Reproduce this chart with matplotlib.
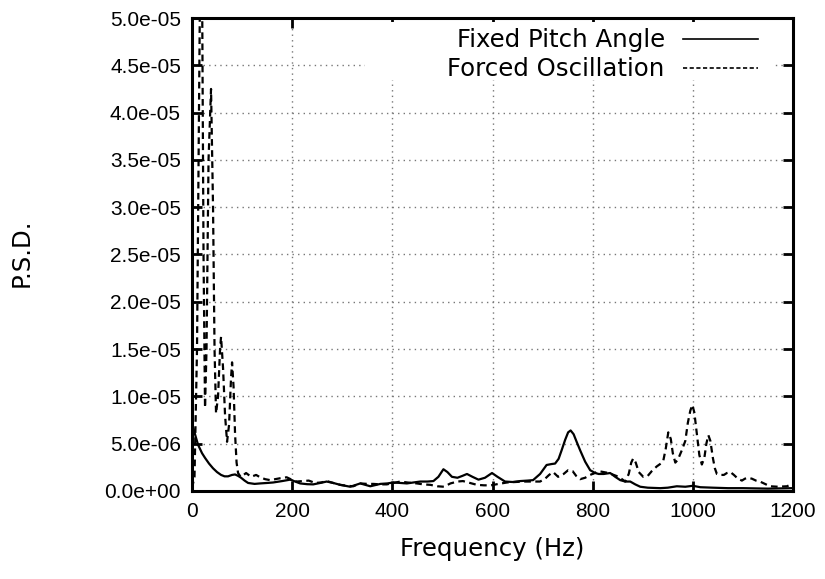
import numpy as np
import matplotlib
matplotlib.use("Agg")
import matplotlib.pyplot as plt
from matplotlib.ticker import FuncFormatter, MultipleLocator
from matplotlib.patches import Rectangle
from matplotlib.lines import Line2D

plt.rcParams['font.family'] = ['Liberation Sans', 'DejaVu Sans']

# Fixed Pitch Angle (values in units of 1e-6)
fixed_freq = [0, 6, 12, 20, 26, 34, 42, 50, 58, 65, 72, 80, 86, 92, 98, 105, 112, 125,
              136, 150, 162, 180, 196, 206, 216, 230, 242, 256, 269, 282, 296, 316, 336,
              356, 376, 390, 402, 416, 429, 442, 456, 470, 482, 492, 502, 510, 519, 530,
              540, 549, 560, 572, 585, 599, 610, 625, 640, 655, 670, 681, 695, 708, 718,
              725, 732, 738, 745, 751, 756, 762, 768, 775, 785, 795, 805, 812, 822, 835,
              845, 855, 865, 875, 885, 895, 910, 935, 950, 968, 985, 1000, 1015, 1040,
              1070, 1100, 1150, 1200]
fixed_psd = [7.2, 6.0, 4.9, 4.0, 3.5, 2.9, 2.4, 2.0, 1.7, 1.55, 1.55, 1.7, 1.75, 1.6, 1.4,
             1.1, 0.85, 0.75, 0.8, 0.85, 0.9, 1.05, 1.2, 1.0, 0.8, 0.72, 0.7, 0.85, 1.0,
             0.85, 0.65, 0.45, 0.8, 0.5, 0.75, 0.8, 0.9, 0.85, 0.8, 0.9, 1.0, 1.0, 1.05,
             1.5, 2.3, 2.0, 1.5, 1.4, 1.6, 1.8, 1.5, 1.2, 1.4, 1.9, 1.5, 1.0, 0.95, 1.05,
             1.1, 1.15, 1.8, 2.75, 2.85, 2.9, 3.4, 4.3, 5.4, 6.2, 6.4, 6.0, 5.2, 4.3, 3.1,
             2.2, 1.9, 1.8, 1.8, 1.9, 1.5, 1.15, 1.0, 1.0, 0.7, 0.45, 0.35, 0.3, 0.35, 0.5,
             0.45, 0.55, 0.4, 0.35, 0.3, 0.3, 0.25, 0.3]

# Forced Oscillation (values in units of 1e-6)
forced_freq = [0, 5, 10, 14, 17, 20, 23, 26, 29, 33, 38, 42, 45, 48, 52, 56, 58, 62, 66,
               70, 74, 78, 80, 83, 86, 89, 92, 97, 103, 108, 113, 118, 123, 128, 136, 146,
               156, 166, 176, 189, 199, 209, 221, 233, 246, 258, 269, 282, 296, 310, 322,
               336, 350, 362, 376, 389, 402, 416, 430, 449, 462, 476, 490, 503, 516, 530,
               541, 555, 569, 583, 597, 612, 629, 645, 662, 680, 695, 705, 713, 721, 731,
               742, 751, 760, 767, 775, 785, 795, 804, 812, 822, 832, 842, 852, 860, 865,
               872, 877, 881, 886, 892, 901, 910, 918, 928, 936, 941, 946, 951, 956, 960,
               965, 970, 978, 985, 990, 995, 999, 1003, 1008, 1013, 1018, 1023, 1027, 1031,
               1035, 1040, 1044, 1048, 1055, 1062, 1068, 1075, 1082, 1090, 1098, 1104,
               1110, 1118, 1126, 1134, 1144, 1154, 1170, 1188, 1200]
forced_psd = [0.3, 1.5, 15, 40, 60, 55, 25, 8.8, 15, 35, 42.5, 30, 15, 8.2, 10, 15, 16.3,
              13, 8, 5.2, 7, 12, 13.6, 11, 6, 3, 1.9, 1.5, 1.7, 1.9, 1.7, 1.5, 1.6, 1.7,
              1.45, 1.25, 1.15, 1.25, 1.35, 1.45, 1.2, 1.0, 1.05, 1.1, 0.85, 0.9, 1.05,
              0.85, 0.65, 0.55, 0.5, 0.8, 0.75, 0.75, 0.7, 0.7, 0.85, 1.0, 0.9, 0.8, 0.7,
              0.65, 0.5, 0.45, 0.8, 1.0, 1.05, 0.85, 0.65, 0.6, 0.6, 0.75, 0.9, 0.95, 1.0,
              1.0, 1.0, 1.3, 1.7, 2.0, 1.5, 1.8, 2.2, 2.1, 1.6, 1.25, 1.4, 1.7, 1.9, 2.1,
              2.0, 1.9, 1.7, 1.5, 1.2, 1.0, 1.8, 3.0, 3.45, 3.0, 2.0, 1.5, 1.6, 2.1, 2.6,
              2.9, 3.2, 4.5, 6.2, 5.5, 4.0, 3.0, 3.3, 4.3, 5.3, 7.2, 8.5, 9.1, 8.3, 6.0,
              3.8, 2.8, 3.5, 5.0, 5.9, 5.3, 3.5, 2.4, 1.8, 1.7, 1.7, 1.9, 2.0, 1.7, 1.3,
              1.1, 1.3, 1.4, 1.3, 1.1, 1.0, 0.75, 0.5, 0.45, 0.5, 0.8]

series_labels = ["Fixed Pitch Angle", "Forced Oscillation"]
x_label = "Frequency (Hz)"
y_label = "P.S.D."

scale = 1e-6
fs_tick = 15
fs_label = 17.6
label_family = ['DejaVu Sans']

fig = plt.figure(figsize=(8.25, 5.79), dpi=100)
ax = fig.add_axes([192 / 825, 1 - 491 / 579, 601 / 825, 473 / 579])

ax.plot(fixed_freq, np.array(fixed_psd) * scale, color='black', lw=1.6,
        solid_joinstyle='round', zorder=3)
ax.plot(forced_freq, np.array(forced_psd) * scale, color='black', lw=1.6,
        linestyle=(0, (3, 2)), zorder=3)

ax.set_xlim(0, 1200)
ax.set_ylim(0, 5e-5)
ax.xaxis.set_major_locator(MultipleLocator(200))
ax.yaxis.set_major_locator(MultipleLocator(5e-6))
ax.yaxis.set_major_formatter(FuncFormatter(lambda v, p: "%.1e" % v))

ax.set_axisbelow(True)
ax.grid(True, color='#777777', linestyle=(0, (1, 3)), lw=1.0)
ax.tick_params(direction='in', top=True, right=True, length=7, width=2,
               labelsize=fs_tick, pad=8)
for s in ax.spines.values():
    s.set_linewidth(2.2)

ax.set_xlabel(x_label, fontsize=fs_label, family=label_family)
ax.set_ylabel(y_label, fontsize=fs_label, family=label_family)
ax.xaxis.set_label_coords(0.5, -(549 - 491) / 473)
ax.xaxis.label.set_va('center')
ax.yaxis.set_label_coords((22 - 192) / 601, (491 - 253) / 473)
ax.yaxis.label.set_va('center')

# white key box covering grid
ax.add_patch(Rectangle(((365 - 192) / 601, (491 - 80) / 473), (775 - 365) / 601,
                       (80 - 22) / 473, transform=ax.transAxes, facecolor='white',
                       edgecolor='none', zorder=1))

handles = [Line2D([], [], color='black', lw=1.2),
           Line2D([], [], color='black', lw=1.2, linestyle=(0, (2.5, 1.5)))]
ax.legend(handles, series_labels, loc='upper right', markerfirst=False,
          bbox_to_anchor=((758 - 192) / 601, (491 - 28.5) / 473), borderaxespad=0,
          borderpad=0, frameon=False, handlelength=75 / 24.4, handletextpad=18 / 24.4,
          labelspacing=0.2, prop={'family': label_family, 'size': fs_label})

fig.savefig("out.png", dpi=100)
